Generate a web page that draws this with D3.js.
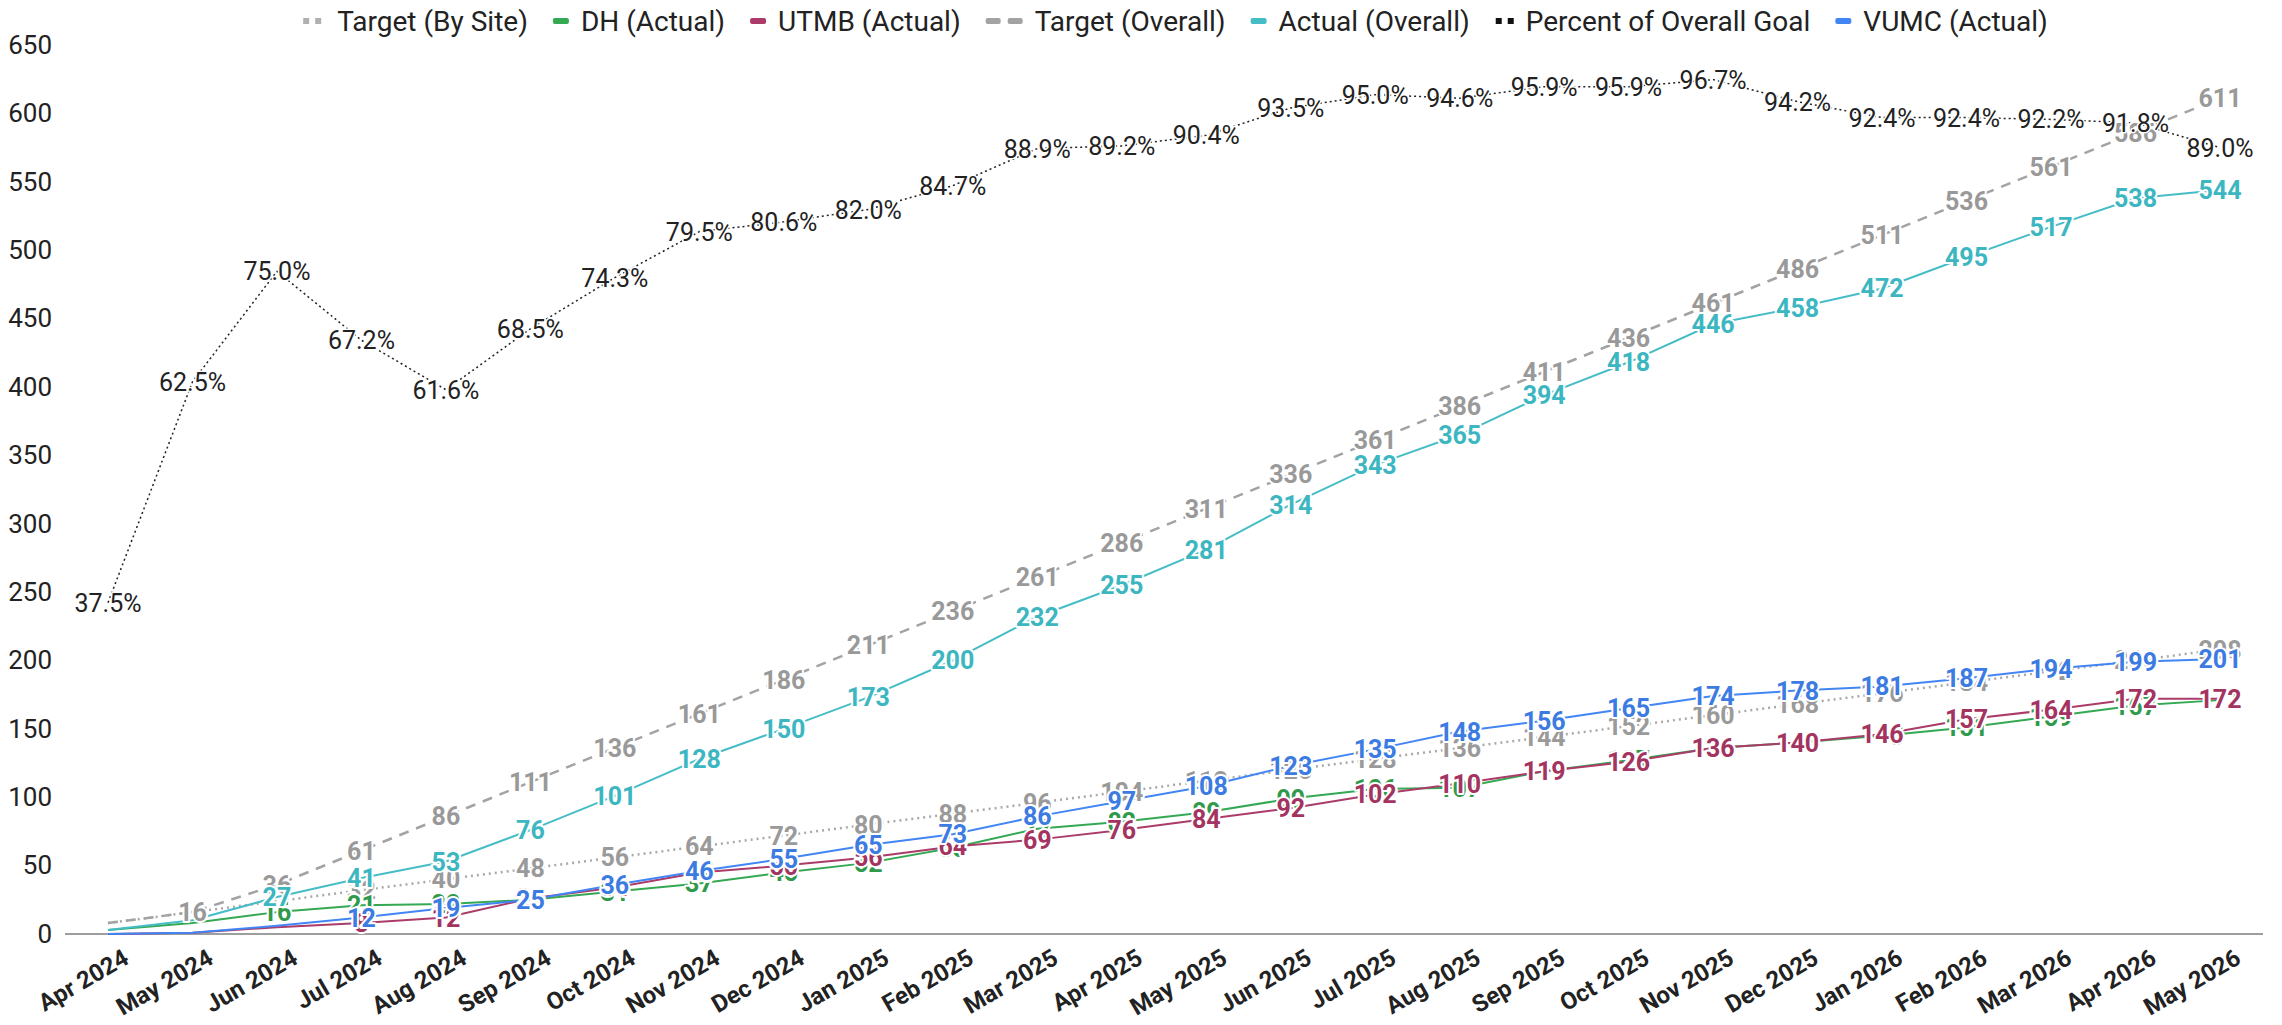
<!DOCTYPE html>
<html><head><meta charset="utf-8">
<script src="https://cdn.jsdelivr.net/npm/d3@7"></script>
<style>
body{margin:0;background:#fff}
svg{display:block;font-family:Roboto,"Noto Sans",sans-serif}
</style>
</head><body>
<svg id="chart" width="2282" height="1025"></svg>
<script>
const months = ["Apr 2024","May 2024","Jun 2024","Jul 2024","Aug 2024","Sep 2024","Oct 2024","Nov 2024","Dec 2024",
  "Jan 2025","Feb 2025","Mar 2025","Apr 2025","May 2025","Jun 2025","Jul 2025","Aug 2025","Sep 2025","Oct 2025",
  "Nov 2025","Dec 2025","Jan 2026","Feb 2026","Mar 2026","Apr 2026","May 2026"];
const targetBySite = [8,16,24,32,40,48,56,64,72,80,88,96,104,112,120,128,136,144,152,160,168,176,184,192,200,208];
const dhActual     = [3,8,16,21,22,25,31,37,45,52,63,77,82,89,99,106,107,119,127,136,140,145,151,159,167,171];
const utmbActual   = [0,1,5,8,12,26,34,45,50,56,64,69,76,84,92,102,110,119,126,136,140,146,157,164,172,172];
const targetOverall= [8,16,36,61,86,111,136,161,186,211,236,261,286,311,336,361,386,411,436,461,486,511,536,561,586,611];
const actualOverall= [3,10,27,41,53,76,101,128,150,173,200,232,255,281,314,343,365,394,418,446,458,472,495,517,538,544];
const percentGoal  = [0.375,0.625,0.750,0.672,0.616,0.685,0.743,0.795,0.806,0.820,0.847,0.889,0.892,0.904,0.935,0.950,
  0.946,0.959,0.959,0.967,0.942,0.924,0.924,0.922,0.918,0.890];
const vumcActual   = [0,1,6,12,19,25,36,46,55,65,73,86,97,108,123,135,148,156,165,174,178,181,187,194,199,201];
const yTicks = [0,50,100,150,200,250,300,350,400,450,500,550,600,650];

const svg = d3.select("#chart");
const x = d3.scalePoint().domain(months).range([108, 2220]);
const y = d3.scaleLinear().domain([0, 650]).range([934, 45]);
const yPct = d3.scaleLinear().domain([0, 1]).range([y(0), y(646)]);

const series = [
  {name:"Target (By Site)", values:targetBySite, color:"#a9a9a9", label:"#9a9a9a", dash:"2,4", w:2.5, icon:"dots", from:3},
  {name:"DH (Actual)", values:dhActual, color:"#34a853", label:"#2f9a4b", w:2, icon:"solid", from:2},
  {name:"UTMB (Actual)", values:utmbActual, color:"#ab3b69", label:"#a3335f", w:2, icon:"solid", from:3},
  {name:"Target (Overall)", values:targetOverall, color:"#a3a3a3", label:"#999999", dash:"10,8", w:2.5, icon:"dash", from:1},
  {name:"Actual (Overall)", values:actualOverall, color:"#46bdc6", label:"#3cb6c0", w:2, icon:"solid", from:2},
  {name:"Percent of Overall Goal", values:percentGoal, color:"#222222", label:"#222222", dash:"2,3", w:1.5, icon:"blackdots", from:0, pct:true},
  {name:"VUMC (Actual)", values:vumcActual, color:"#4285f4", label:"#3b7be2", w:2, icon:"solid", from:3}
];

// baseline
svg.append("line").attr("x1",65).attr("x2",2263).attr("y1",y(0)).attr("y2",y(0))
  .attr("stroke","#9e9e9e").attr("stroke-width",2);

// y axis labels
const yAxis = d3.axisLeft(y).tickValues(yTicks).tickSize(0).tickPadding(0);
const gy = svg.append("g").attr("transform","translate(52,0)").call(yAxis);
gy.select(".domain").remove();
gy.selectAll("text").attr("font-size",26).attr("fill","#222").attr("font-family","Roboto");

// x axis labels
const gx = svg.append("g");
gx.selectAll("text").data(months).join("text")
  .attr("transform", d => `translate(${x(d)+14},948) rotate(-30)`)
  .attr("text-anchor","end").attr("dy","0.7em")
  .attr("font-size",24).attr("font-weight","bold").attr("fill","#222")
  .text(d => d);

// lines
series.forEach(s => {
  const sc = s.pct ? yPct : y;
  const line = d3.line().x((d,i) => x(months[i])).y(d => sc(d));
  svg.append("path").datum(s.values).attr("d", line)
    .attr("fill","none").attr("stroke", s.color).attr("stroke-width", s.w)
    .attr("stroke-dasharray", s.dash || null).attr("stroke-linejoin","round");
});

// labels
const fmtPct = d3.format(".1%");
series.forEach(s => {
  const sc = s.pct ? yPct : y;
  const pts = s.values.map((v,i) => ({v, i})).filter(p => p.i >= s.from);
  svg.append("g").selectAll("text").data(pts).join("text")
    .attr("x", p => x(months[p.i])).attr("y", p => sc(p.v)).attr("dy","0.36em")
    .attr("text-anchor","middle")
    .attr("font-size", 25)
    .attr("font-weight", s.pct ? "normal" : "bold")
    .attr("fill", s.label)
    .attr("stroke","#fff").attr("stroke-width", s.pct ? 3 : 4).attr("paint-order","stroke")
    .attr("stroke-linejoin","round")
    .text(p => s.pct ? fmtPct(p.v) : p.v);
});

// legend
const lg = svg.append("g");
let cx = 0;
series.forEach(s => {
  const g = lg.append("g");
  const iw = s.icon === "dash" ? 37 : (s.icon === "solid" ? 16 : 19);
  const gap = s.icon === "dots" ? 16 : 12;
  if (s.icon === "solid") {
    g.append("rect").attr("x",cx).attr("y",-3).attr("width",16).attr("height",6).attr("rx",2).attr("fill",s.color);
  } else if (s.icon === "dash") {
    g.append("rect").attr("x",cx).attr("y",-3).attr("width",15).attr("height",6).attr("rx",2).attr("fill",s.color);
    g.append("rect").attr("x",cx+22).attr("y",-3).attr("width",15).attr("height",6).attr("rx",2).attr("fill",s.color);
  } else {
    const c = s.icon === "blackdots" ? "#111" : "#b0b0b0";
    g.append("rect").attr("x",cx+1).attr("y",-3).attr("width",6).attr("height",6).attr("fill",c);
    g.append("rect").attr("x",cx+13).attr("y",-3).attr("width",6).attr("height",6).attr("fill",c);
  }
  const t = g.append("text").attr("x", cx + iw + gap).attr("y",0).attr("dy","0.36em")
    .attr("font-size",28).attr("fill","#222").text(s.name);
  cx += iw + gap + t.node().getComputedTextLength() + 25;
});
const total = cx - 25;
lg.attr("transform", `translate(${1175 - total/2},21)`);
</script>
</body></html>
